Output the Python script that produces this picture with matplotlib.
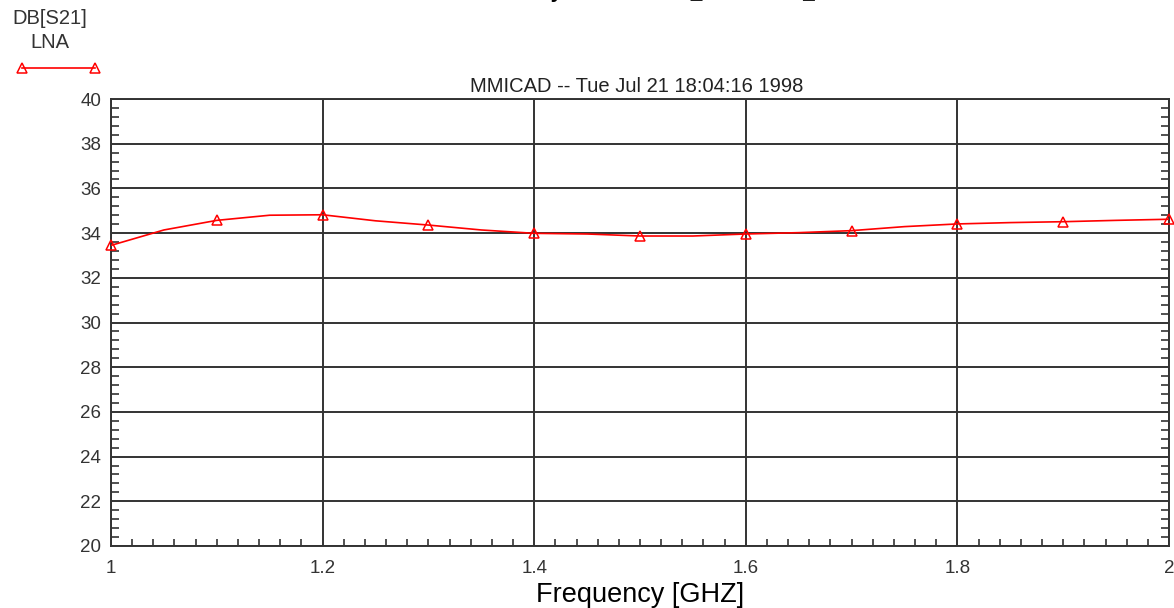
import numpy as np
import matplotlib.pyplot as plt
from matplotlib.lines import Line2D
from matplotlib.ticker import MultipleLocator

# --- data ---
freq_marks = [1.0, 1.1, 1.2, 1.3, 1.4, 1.5, 1.6, 1.7, 1.8, 1.9, 2.0]
gain_marks = [33.45, 34.57, 34.82, 34.36, 33.99, 33.87, 33.96, 34.11, 34.41, 34.51, 34.62]

# the curve drawn between the markers (read every 0.05 GHz)
freq_curve = [1.00, 1.05, 1.10, 1.15, 1.20, 1.25, 1.30, 1.35, 1.40, 1.45, 1.50,
              1.55, 1.60, 1.65, 1.70, 1.75, 1.80, 1.85, 1.90, 1.95, 2.00]
gain_curve = [33.45, 34.14, 34.57, 34.80, 34.82, 34.55, 34.36, 34.14, 33.99, 33.96, 33.87,
              33.87, 33.96, 34.02, 34.11, 34.29, 34.41, 34.47, 34.51, 34.57, 34.62]

x_ticks = [1.0, 1.2, 1.4, 1.6, 1.8, 2.0]
x_tick_labels = ['1', '1.2', '1.4', '1.6', '1.8', '2']
y_ticks = list(range(20, 41, 2))

plt.rcParams['font.family'] = ['Liberation Sans', 'DejaVu Sans']

W, H = 1174, 608
fig = plt.figure(figsize=(W / 100, H / 100), dpi=100)
ax = fig.add_axes([111 / W, 1 - 546 / H, (1169 - 111) / W, (546 - 99) / H])

red = '#ff0000'
grid_col = '#333333'

ax.plot(freq_curve, gain_curve, color=red, lw=1.2, zorder=3)
ax.plot(freq_marks, gain_marks, ls='none', marker='^', ms=7.5, mfc='none',
        mec=red, mew=1.1, zorder=4, clip_on=False)

ax.set_xlim(1.0, 2.0)
ax.set_ylim(20, 40)
ax.set_xticks(x_ticks)
ax.set_xticklabels(x_tick_labels)
ax.set_yticks(y_ticks)
ax.xaxis.set_minor_locator(MultipleLocator(0.02))
ax.yaxis.set_minor_locator(MultipleLocator(0.4))

ax.grid(True, which='major', color=grid_col, lw=1.4)
ax.tick_params(which='major', length=0, labelsize=13.5, labelcolor='#333333', pad=7)
ax.tick_params(axis='x', which='major', pad=10)
ax.tick_params(which='minor', direction='in', length=6, width=1.2, color=grid_col)
ax.tick_params(axis='y', which='minor', left=True, right=True)
ax.tick_params(axis='x', which='minor', bottom=True, top=False, length=5)
for sp in ax.spines.values():
    sp.set_color(grid_col)
    sp.set_linewidth(1.4)

ax.set_xlabel('Frequency [GHZ]', fontsize=19.5, color='black', labelpad=4)

# subtitle and header
fig.text(637 / W, 1 - 87 / H, 'MMICAD -- Tue Jul 21 18:04:16 1998',
         ha='center', va='center', fontsize=14.5, color='#222222')
fig.text(50 / W, 1 - 18 / H, 'DB[S21]', ha='center', va='center',
         fontsize=14.5, color='#333333')
fig.text(50 / W, 1 - 42 / H, 'LNA', ha='center', va='center',
         fontsize=14.5, color='#333333')
fig.add_artist(Line2D([22 / W, 95 / W], [1 - 68 / H, 1 - 68 / H],
                      transform=fig.transFigure, color=red, lw=1.2,
                      marker='^', ms=7.5, mfc='none', mec=red, mew=1.1))

# main title, cut off by the top edge of the image (only descenders show)
fig.text(415 / W, 1 + 1.5 / H, 'Gain Summary LNADESIGN_REPORTS_1998',
         ha='left', va='baseline', fontsize=15, fontweight='bold')

fig.savefig('out.png', dpi=100)
